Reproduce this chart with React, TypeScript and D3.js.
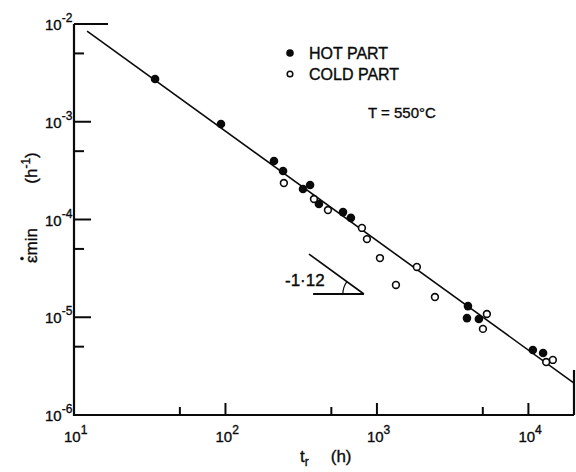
import React from 'react';
import * as d3 from 'd3';

// rupture time t_r (h) and minimum creep rate (1/h)
const hotT = [34.3, 93.4, 209, 240, 325, 362, 414, 597, 673, 3990, 3930, 4710, 10700, 12500];
const hotE = [2.74e-3, 9.5e-4, 3.97e-4, 3.13e-4, 2.05e-4, 2.25e-4, 1.44e-4, 1.19e-4, 1.04e-4, 1.3e-5, 9.8e-6, 9.6e-6, 4.62e-6, 4.31e-6];
const coldT = [243, 384, 475, 796, 859, 1047, 1335, 1835, 2415, 5320, 5010, 14500, 13100];
const coldE = [2.36e-4, 1.62e-4, 1.25e-4, 8.2e-5, 6.3e-5, 4.03e-5, 2.14e-5, 3.27e-5, 1.61e-5, 1.08e-5, 7.6e-6, 3.66e-6, 3.48e-6];

// fitted line, slope -1.12
const fitT = [12.2, 20000];
const fitE = [8.47e-3, 2.12e-6];

// slope marker: start of slanted leg, vertex, left end of horizontal leg
const slopeT = [356, 820, 379];
const slopeE = [4.43e-5, 1.73e-5, 1.73e-5];

const xMajor = [10, 100, 1000, 10000];
const xExp = ['1', '2', '3', '4'];
const xMinor = [50, 500, 5000];
const yMajor = [1e-2, 1e-3, 1e-4, 1e-5, 1e-6];
const yExp = ['-2', '-3', '-4', '-5', '-6'];
const yMinor = [5e-3, 5e-4, 5e-5, 5e-6];

const font = "'Liberation Sans', 'DejaVu Sans', sans-serif";
const ink = '#0a0a0a';

export default function App() {
  const width = 576, height = 472;
  const x = d3.scaleLog().domain([10, 20000]).range([74, 574]);
  const y = d3.scaleLog().domain([1e-6, 1e-2]).range([415, 24]);

  const line = d3.line<number>()
    .x((d, i) => x(fitT[i]))
    .y((d) => y(d));

  const vx = x(slopeT[1]), vy = y(slopeE[1]);
  const sx = x(slopeT[0]), sy = y(slopeE[0]);
  const ang = Math.atan2(sy - vy, sx - vx);
  const r = 21;
  const arc = `M${vx - r},${vy} A${r},${r} 0 0 1 ${vx + r * Math.cos(ang)},${vy + r * Math.sin(ang)}`;

  return (
    <svg width={width} height={height} style={{ position: 'absolute', left: 0, top: 0, background: '#fff' }}
      fontFamily={font} fill={ink}>
      {/* frame */}
      <g stroke={ink} strokeWidth={2.2} fill="none">
        <line x1={74} y1={y(1e-2)} x2={74} y2={y(1e-6) + 1} />
        <line x1={73} y1={y(1e-6)} x2={x(20000)} y2={y(1e-6)} />
        <line x1={74} y1={y(1e-2)} x2={108} y2={y(1e-2)} />
        <line x1={x(20000)} y1={370} x2={x(20000)} y2={y(1e-6)} />
      </g>
      {/* ticks */}
      <g stroke={ink} strokeWidth={2}>
        {yMajor.slice(1, 4).map((v) => <line key={v} x1={74} x2={91} y1={y(v)} y2={y(v)} />)}
        {yMinor.map((v) => <line key={v} x1={74} x2={84} y1={y(v)} y2={y(v)} />)}
        {xMajor.slice(1).map((v) => <line key={v} x1={x(v)} x2={x(v)} y1={y(1e-6)} y2={y(1e-6) - 12} />)}
        {xMinor.map((v) => <line key={v} x1={x(v)} x2={x(v)} y1={y(1e-6)} y2={y(1e-6) - 8} />)}
      </g>
      <g stroke={ink} strokeWidth={0.35}>
        {/* tick labels */}
        <g fontSize={15}>
          {yMajor.map((v, i) => (
            <text key={v} x={45} y={y(v) + 6}>
              10<tspan dy={-8} fontSize={12}>{yExp[i]}</tspan>
            </text>
          ))}
          {xMajor.map((v, i) => (
            <text key={v} x={x(v) - 10} y={y(1e-6) + 27}>
              10<tspan dy={-8} fontSize={12}>{xExp[i]}</tspan>
            </text>
          ))}
        </g>
        {/* axis titles */}
        <g transform="translate(28,0) rotate(-90)" fontSize={17}>
          <text x={-263} y={9}>εmin</text>
          <circle cx={-258.5} cy={-6} r={1.6} />
          <text x={-168} y={9} textAnchor="middle">
            (h<tspan dy={-7} fontSize={12}>-1</tspan><tspan dy={7}>)</tspan>
          </text>
        </g>
        <text x={300} y={462} fontSize={17}>
          t<tspan dy={4} fontSize={12}>r</tspan><tspan dy={-4} dx={22}>(h)</tspan>
        </text>
        <text x={285} y={286} fontSize={17}>-1·12</text>
        <text x={309} y={59} fontSize={16}>HOT  PART</text>
        <text x={309} y={80} fontSize={16}>COLD PART</text>
        <text x={368} y={118} fontSize={15}>T = 550°C</text>
      </g>
      {/* fit line */}
      <path d={line(fitE) ?? ''} stroke={ink} strokeWidth={1.6} fill="none" />
      {/* slope marker */}
      <g stroke={ink} fill="none">
        <line x1={sx} y1={sy} x2={vx} y2={vy} strokeWidth={1.6} />
        <line x1={x(slopeT[2])} y1={vy} x2={vx} y2={vy} strokeWidth={2} />
        <path d={arc} strokeWidth={1.2} />
      </g>
      {/* points */}
      {hotT.map((t, i) => (
        <circle key={'h' + i} cx={x(t)} cy={y(hotE[i])} r={4.3} fill={ink} />
      ))}
      {coldT.map((t, i) => (
        <circle key={'c' + i} cx={x(t)} cy={y(coldE[i])} r={3.4} fill="#fff" stroke={ink} strokeWidth={1.6} />
      ))}
      {/* legend markers */}
      <circle cx={290} cy={53} r={3.8} fill={ink} />
      <circle cx={290} cy={74} r={2.8} fill="#fff" stroke={ink} strokeWidth={1.5} />
    </svg>
  );
}
